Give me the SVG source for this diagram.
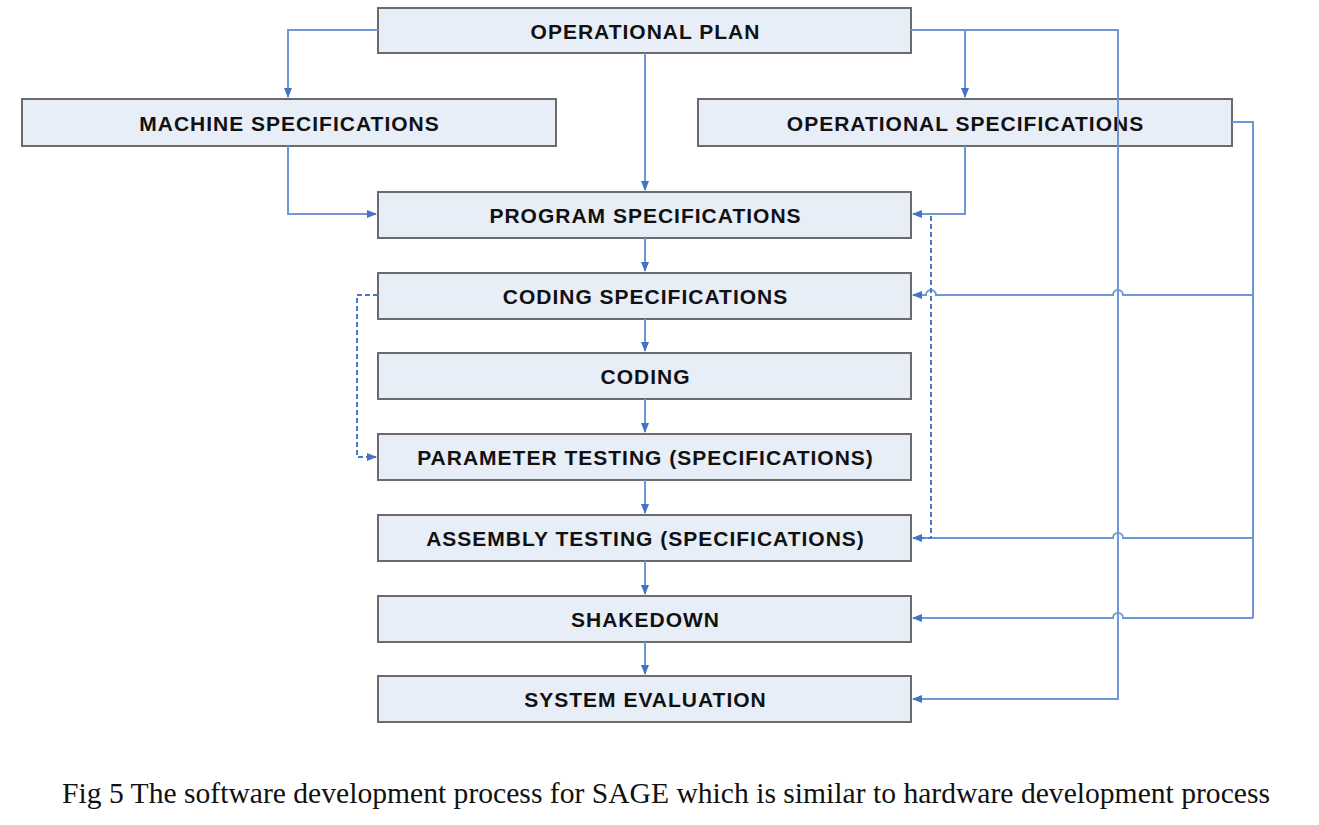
<svg xmlns="http://www.w3.org/2000/svg" width="1319" height="825" viewBox="0 0 1319 825">
<defs>
<marker id="arr" markerWidth="10" markerHeight="8" refX="9" refY="4" orient="auto" markerUnits="userSpaceOnUse">
<path d="M0,0 L10,4 L0,8 z" fill="#4472c4"/>
</marker>
</defs>
<style>
.box{fill:#e8eef8;stroke:#6b6b6b;stroke-width:2}
.lbl{font-family:"Liberation Sans",Arial,sans-serif;font-weight:bold;font-size:21px;letter-spacing:1px;fill:#111;text-anchor:middle;dominant-baseline:central}
.c{fill:none;stroke:#6f97d6;stroke-width:2}
.d{fill:none;stroke:#4a78c8;stroke-width:2;stroke-dasharray:5,3}
.cap{font-family:"Liberation Serif","Times New Roman",serif;font-size:29px;fill:#111}
</style>
<rect width="1319" height="825" fill="#fff"/>
<g id="n-opplan"><rect class="box" x="378" y="8" width="533" height="45"/><text class="lbl" x="645.5" y="31">OPERATIONAL PLAN</text></g>
<g id="n-machine"><rect class="box" x="22" y="99" width="534" height="47"/><text class="lbl" x="289.5" y="123">MACHINE SPECIFICATIONS</text></g>
<g id="n-opspec"><rect class="box" x="698" y="99" width="534" height="47"/><text class="lbl" x="965.5" y="123">OPERATIONAL SPECIFICATIONS</text></g>
<g id="n-program"><rect class="box" x="378" y="192" width="533" height="46"/><text class="lbl" x="645.5" y="215">PROGRAM SPECIFICATIONS</text></g>
<g id="n-codingspec"><rect class="box" x="378" y="273" width="533" height="46"/><text class="lbl" x="645.5" y="296">CODING SPECIFICATIONS</text></g>
<g id="n-coding"><rect class="box" x="378" y="353" width="533" height="46"/><text class="lbl" x="645.5" y="376">CODING</text></g>
<g id="n-param"><rect class="box" x="378" y="434" width="533" height="46"/><text class="lbl" x="645.5" y="457">PARAMETER TESTING (SPECIFICATIONS)</text></g>
<g id="n-assembly"><rect class="box" x="378" y="515" width="533" height="46"/><text class="lbl" x="645.5" y="538">ASSEMBLY TESTING (SPECIFICATIONS)</text></g>
<g id="n-shakedown"><rect class="box" x="378" y="596" width="533" height="46"/><text class="lbl" x="645.5" y="619">SHAKEDOWN</text></g>
<g id="n-syseval"><rect class="box" x="378" y="676" width="533" height="46"/><text class="lbl" x="645.5" y="699">SYSTEM EVALUATION</text></g>
<g id="connectors">
<path class="c" d="M378,30 H288 V97" marker-end="url(#arr)"/>
<path class="c" d="M645,53 V190" marker-end="url(#arr)"/>
<path class="c" d="M911,30 H965 V97" marker-end="url(#arr)"/>
<path class="c" d="M965,30 H1118 V699 H913" marker-end="url(#arr)"/>
<path class="c" d="M288,146 V214 H376" marker-end="url(#arr)"/>
<path class="c" d="M965,146 V214 H913" marker-end="url(#arr)"/>
<path class="c" d="M1232,122 H1253 V618"/>
<path class="c" d="M1253,295 H1123 a5,5 0 0 0 -10,0 H936 a5,5 0 0 0 -10,0 H913" marker-end="url(#arr)"/>
<path class="c" d="M1253,538 H1123 a5,5 0 0 0 -10,0 H913" marker-end="url(#arr)"/>
<path class="c" d="M1253,618 H1123 a5,5 0 0 0 -10,0 H913" marker-end="url(#arr)"/>
<path class="d" d="M931,216 V538 H913"/>
<path class="d" d="M378,295 H357 V457 H376" marker-end="url(#arr)"/>
<path class="c" d="M645,238 V271" marker-end="url(#arr)"/>
<path class="c" d="M645,319 V351" marker-end="url(#arr)"/>
<path class="c" d="M645,399 V432" marker-end="url(#arr)"/>
<path class="c" d="M645,480 V513" marker-end="url(#arr)"/>
<path class="c" d="M645,561 V594" marker-end="url(#arr)"/>
<path class="c" d="M645,642 V674" marker-end="url(#arr)"/>
</g>
<text class="cap" x="62" y="803" textLength="1208" lengthAdjust="spacingAndGlyphs">Fig 5 The software development process for SAGE which is similar to hardware development process</text>
</svg>
